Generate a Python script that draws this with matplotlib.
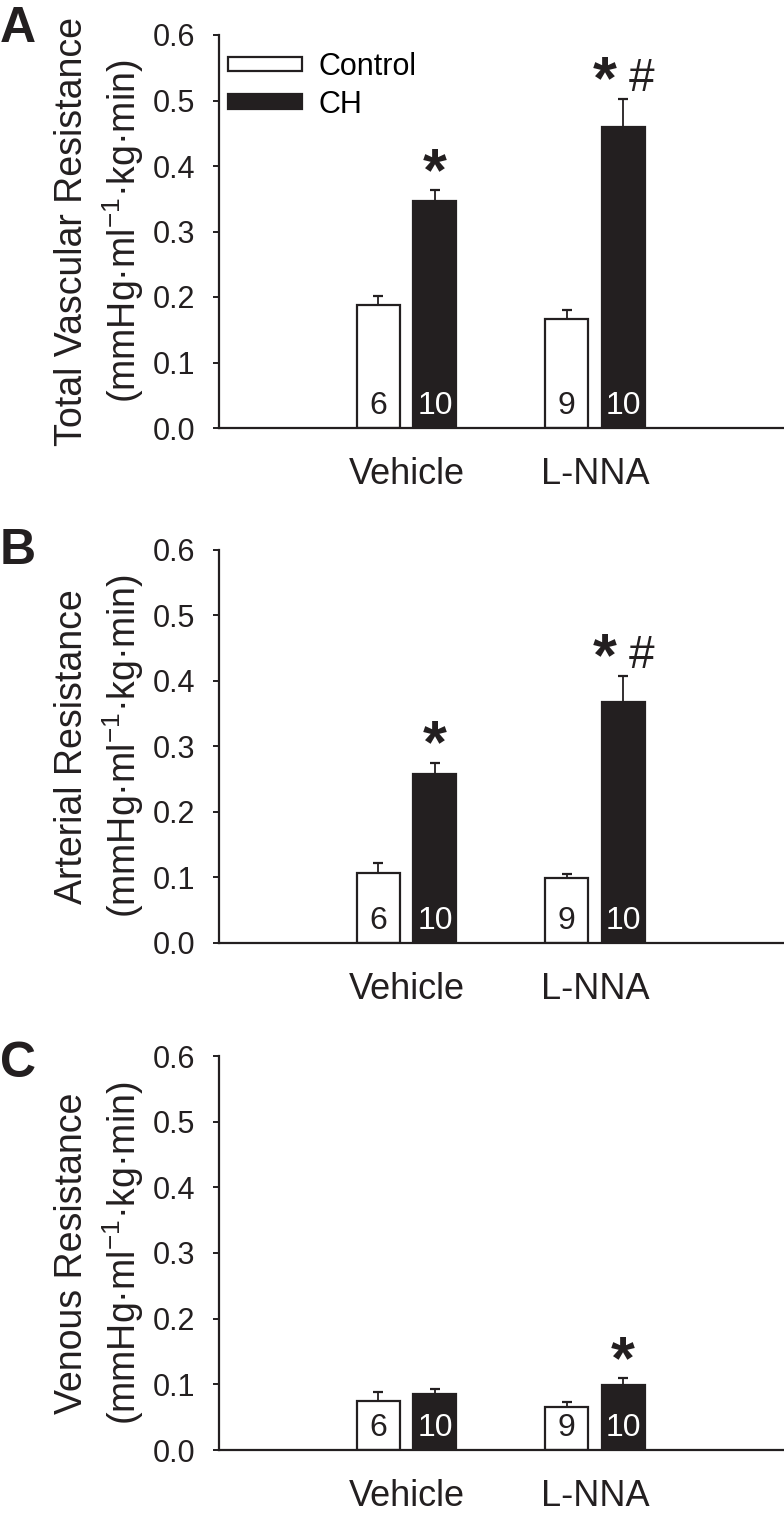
import matplotlib
matplotlib.use("Agg")
import matplotlib.pyplot as plt
from matplotlib.patches import Patch
from matplotlib.transforms import blended_transform_factory
import numpy as np

plt.rcParams['font.family'] = ['Liberation Sans', 'DejaVu Sans']
plt.rcParams['mathtext.fontset'] = 'custom'
plt.rcParams['mathtext.rm'] = 'Liberation Sans'
plt.rcParams['mathtext.it'] = 'Liberation Sans:italic'
plt.rcParams['mathtext.bf'] = 'Liberation Sans:bold'

# ---------------- data ----------------
groups = ['Vehicle', 'L-NNA']
series = ['Control', 'CH']
n_control = [6, 9]
n_ch = [10, 10]

tvr_control = [0.188, 0.166]
tvr_control_sem = [0.014, 0.014]
tvr_ch = [0.347, 0.459]
tvr_ch_sem = [0.016, 0.044]

art_control = [0.107, 0.098]
art_control_sem = [0.014, 0.006]
art_ch = [0.258, 0.368]
art_ch_sem = [0.017, 0.040]

ven_control = [0.074, 0.066]
ven_control_sem = [0.014, 0.007]
ven_ch = [0.085, 0.099]
ven_ch_sem = [0.008, 0.011]

# significance marks on CH bars: (star, hash)
tvr_sig = [(True, False), (True, True)]
art_sig = [(True, False), (True, True)]
ven_sig = [(False, False), (True, False)]

yticks = [0.0, 0.1, 0.2, 0.3, 0.4, 0.5, 0.6]

panels = [
    dict(letter='A', title='Total Vascular Resistance',
         ctrl=tvr_control, ctrl_sem=tvr_control_sem, ch=tvr_ch, ch_sem=tvr_ch_sem,
         sig=tvr_sig, top=35, bottom=428, letter_base=42, legend=True),
    dict(letter='B', title='Arterial Resistance',
         ctrl=art_control, ctrl_sem=art_control_sem, ch=art_ch, ch_sem=art_ch_sem,
         sig=art_sig, top=550, bottom=942.5, letter_base=564, legend=False),
    dict(letter='C', title='Venous Resistance',
         ctrl=ven_control, ctrl_sem=ven_control_sem, ch=ven_ch, ch_sem=ven_ch_sem,
         sig=ven_sig, top=1056, bottom=1450, letter_base=1077, legend=False),
]

W, H = 784, 1522
fig = plt.figure(figsize=(W / 100, H / 100), dpi=100)

BLACK = '#231f20'
x_left, x_right = 218.5, 783
centers = np.array([1.0, 2.0])
off = 0.15
bw = 0.228
units = '(mmHg\u00b7ml$^{\\mathrm{-1}}$\u00b7kg\u00b7min)'

for p in panels:
    ax = fig.add_axes([x_left / W, 1 - p['bottom'] / H,
                       (x_right - x_left) / W, (p['bottom'] - p['top']) / H])
    xc = centers - off
    xh = centers + off
    # error bars (lower half hidden behind bars)
    ax.errorbar(xc, p['ctrl'], yerr=p['ctrl_sem'], fmt='none', ecolor=BLACK,
                elinewidth=1.3, capsize=3.6, capthick=1.6, zorder=1)
    ax.errorbar(xh, p['ch'], yerr=p['ch_sem'], fmt='none', ecolor=BLACK,
                elinewidth=1.3, capsize=3.6, capthick=1.6, zorder=1)
    ax.bar(xc, p['ctrl'], width=bw, color='white', edgecolor=BLACK,
           linewidth=1.6, zorder=2, label=series[0])
    ax.bar(xh, p['ch'], width=bw, color=BLACK, edgecolor=BLACK,
           linewidth=1.6, zorder=2, label=series[1])

    for i in range(len(groups)):
        ax.annotate(str(n_control[i]), xy=(xc[i], 0), xytext=(0, 10),
                    textcoords='offset points', ha='center', va='baseline',
                    fontsize=23, color=BLACK, zorder=3)
        ax.annotate(str(n_ch[i]), xy=(xh[i], 0), xytext=(0, 10),
                    textcoords='offset points', ha='center', va='baseline',
                    fontsize=23, color='white', zorder=3)
        star, hsh = p['sig'][i]
        ytop = p['ch'][i] + p['ch_sem'][i]
        if star:
            dx = -13 if hsh else 0
            ax.annotate('*', xy=(xh[i], ytop), xytext=(dx, 0),
                        textcoords='offset points', ha='center', va='baseline',
                        fontsize=44, fontweight='bold', color=BLACK)
        if hsh:
            ax.annotate('#', xy=(xh[i], ytop), xytext=(13.5, 5.5),
                        textcoords='offset points', ha='center', va='baseline',
                        fontsize=33, color=BLACK)

    ax.set_xlim(0, 3)
    ax.set_ylim(0, 0.6)
    ax.set_yticks(yticks)
    ax.set_yticklabels(['%.1f' % t for t in yticks])
    ax.set_xticks(centers)
    ax.set_xticklabels(groups)
    for s in ['top', 'right']:
        ax.spines[s].set_visible(False)
    for s in ['left', 'bottom']:
        ax.spines[s].set_linewidth(1.6)
        ax.spines[s].set_color(BLACK)
    ax.tick_params(axis='y', direction='out', length=4.5, width=1.4,
                   labelsize=22, pad=12, colors=BLACK)
    ax.tick_params(axis='x', length=0, labelsize=26, pad=21, colors=BLACK)

    tr = blended_transform_factory(fig.transFigure, ax.transAxes)
    ax.text(72 / W, 0.5, p['title'], transform=tr, rotation=90,
            ha='center', va='center', fontsize=27, color=BLACK)
    ax.text(123 / W, 0.5, units, transform=tr, rotation=90,
            ha='center', va='center', fontsize=27, color=BLACK)

    fig.text(0.0, 1 - p['letter_base'] / H, p['letter'], fontsize=36,
             fontweight='bold', ha='left', va='baseline', color=BLACK)

    if p['legend']:
        handles = [Patch(facecolor='white', edgecolor=BLACK, linewidth=1.6),
                   Patch(facecolor=BLACK, edgecolor=BLACK, linewidth=1.6)]
        ax.legend(handles, series, loc='upper left',
                  bbox_to_anchor=(0.017, 0.957), frameon=False, fontsize=22,
                  handlelength=2.42, handleheight=0.35, handletextpad=0.55,
                  labelspacing=0.25, borderpad=0, borderaxespad=0)

fig.savefig('out.png', dpi=100)
